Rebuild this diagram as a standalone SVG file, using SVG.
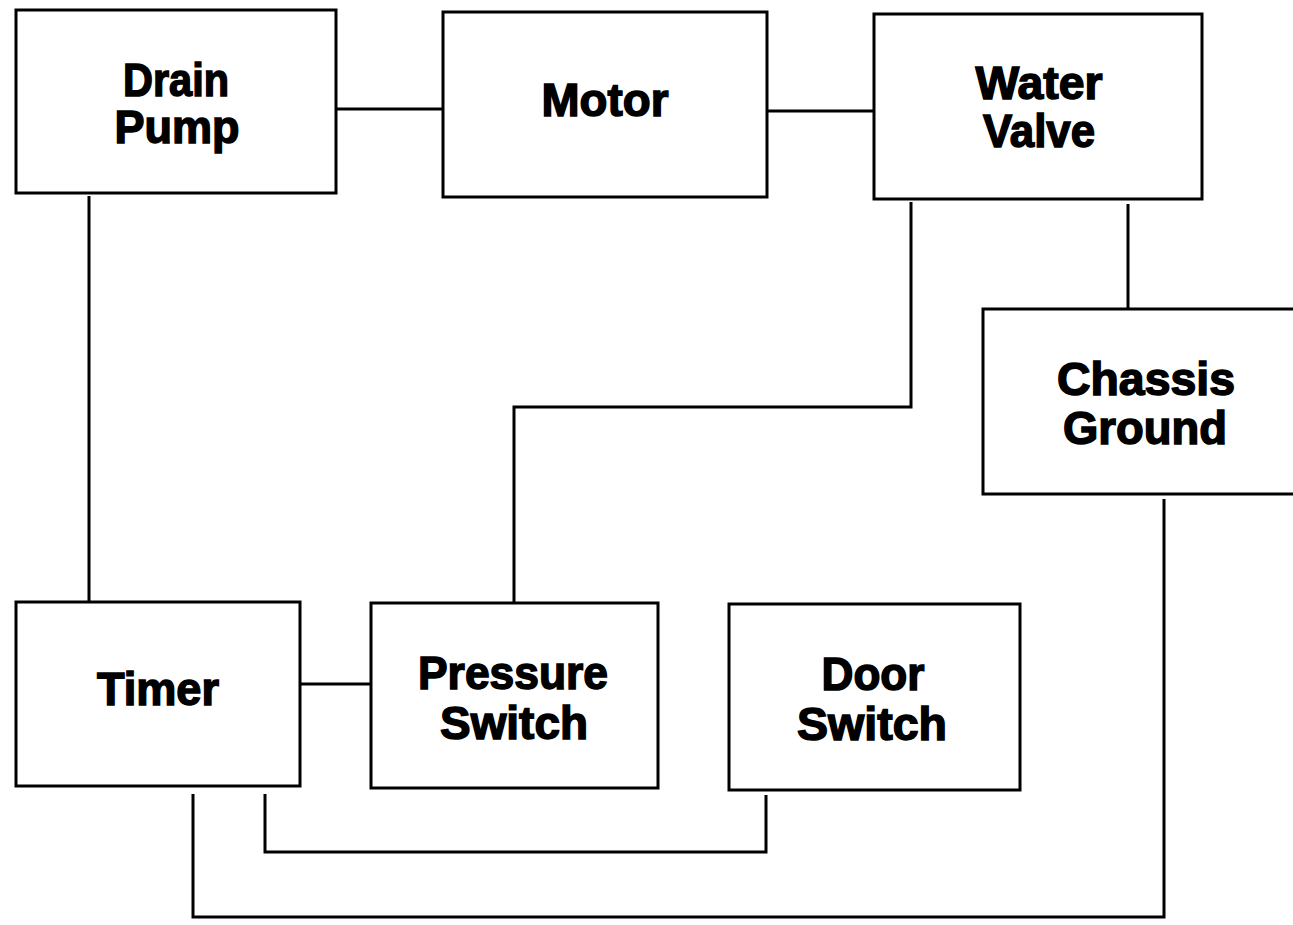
<svg xmlns="http://www.w3.org/2000/svg" width="1293" height="925" viewBox="0 0 1293 925">
<style>
.box{fill:#fff;stroke:#000;stroke-width:3}
.wire{fill:none;stroke:#000;stroke-width:3}
.lbl{font-family:"Liberation Sans",Arial,sans-serif;font-weight:bold;font-size:46px;fill:#000;stroke:#000;stroke-width:1.5;text-anchor:middle}
</style>
<rect width="1293" height="925" fill="#fff"/>
<g id="connectors">
<line class="wire" x1="336" y1="109" x2="443" y2="109"/>
<line class="wire" x1="767" y1="111" x2="874" y2="111"/>
<line class="wire" x1="89" y1="196" x2="89" y2="602"/>
<polyline class="wire" points="911,202 911,407 514,407 514,603"/>
<line class="wire" x1="1128" y1="204" x2="1128" y2="309"/>
<line class="wire" x1="300" y1="684" x2="371" y2="684"/>
<polyline class="wire" points="265,794 265,852 766,852 766,795"/>
<polyline class="wire" points="193,794 193,917 1164,917 1164,499"/>
</g>
<g id="drain-pump">
<rect class="box" x="16" y="10" width="320" height="183"/>
<text class="lbl" x="176" y="96" textLength="106" lengthAdjust="spacingAndGlyphs">Drain</text>
<text class="lbl" x="177" y="143" textLength="125" lengthAdjust="spacingAndGlyphs">Pump</text>
</g>
<g id="motor">
<rect class="box" x="443" y="12" width="324" height="185"/>
<text class="lbl" x="605" y="116" textLength="127" lengthAdjust="spacingAndGlyphs">Motor</text>
</g>
<g id="water-valve">
<rect class="box" x="874" y="14" width="328" height="185"/>
<text class="lbl" x="1039" y="99" textLength="127" lengthAdjust="spacingAndGlyphs">Water</text>
<text class="lbl" x="1039" y="147" textLength="112" lengthAdjust="spacingAndGlyphs">Valve</text>
</g>
<g id="chassis-ground">
<rect class="box" x="983" y="309" width="320" height="185"/>
<text class="lbl" x="1146" y="395" textLength="178" lengthAdjust="spacingAndGlyphs">Chassis</text>
<text class="lbl" x="1145" y="444" textLength="164" lengthAdjust="spacingAndGlyphs">Ground</text>
</g>
<g id="timer">
<rect class="box" x="16" y="602" width="284" height="184"/>
<text class="lbl" x="158" y="705" textLength="122" lengthAdjust="spacingAndGlyphs">Timer</text>
</g>
<g id="pressure-switch">
<rect class="box" x="371" y="603" width="287" height="185"/>
<text class="lbl" x="513" y="689" textLength="190" lengthAdjust="spacingAndGlyphs">Pressure</text>
<text class="lbl" x="514" y="739" textLength="148" lengthAdjust="spacingAndGlyphs">Switch</text>
</g>
<g id="door-switch">
<rect class="box" x="729" y="604" width="291" height="186"/>
<text class="lbl" x="873" y="690" textLength="103" lengthAdjust="spacingAndGlyphs">Door</text>
<text class="lbl" x="872" y="740" textLength="150" lengthAdjust="spacingAndGlyphs">Switch</text>
</g>
</svg>
